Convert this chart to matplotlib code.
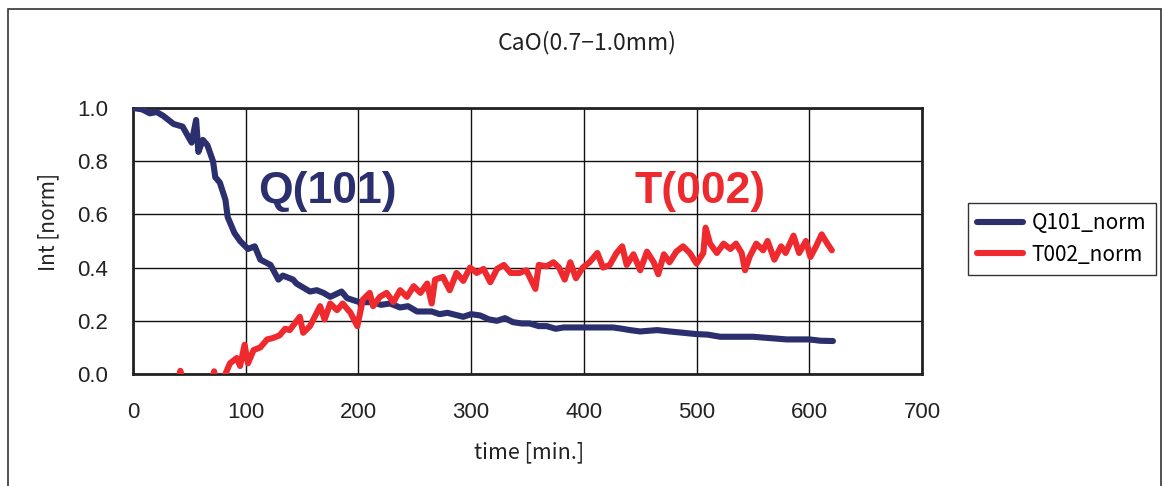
import matplotlib
matplotlib.use("Agg")
import matplotlib.pyplot as plt
from matplotlib.patches import Rectangle

# ---- data ----
t_q = [0, 8, 15, 21, 27, 36, 44, 52, 56, 58, 62, 66, 71, 73, 77, 82, 84, 90, 95, 102,
       108, 113, 122, 129, 133, 142, 145, 157, 163, 169, 175, 185, 190, 201, 213, 220,
       228, 237, 244, 252, 265, 272, 279, 293, 300, 308, 316, 323, 330, 337, 345, 352,
       360, 367, 375, 382, 397, 412, 426, 434, 441, 450, 465, 476, 488, 500, 510, 521,
       535, 550, 565, 580, 600, 610, 621]
q101 = [1.0, 0.995, 0.98, 0.985, 0.97, 0.94, 0.93, 0.87, 0.955, 0.835, 0.88, 0.86, 0.80,
        0.74, 0.72, 0.655, 0.59, 0.53, 0.50, 0.47, 0.48, 0.43, 0.41, 0.355, 0.37, 0.355,
        0.34, 0.31, 0.315, 0.305, 0.29, 0.31, 0.285, 0.27, 0.27, 0.26,
        0.265, 0.25, 0.255, 0.235, 0.235, 0.225, 0.23, 0.215, 0.225, 0.22, 0.205,
        0.20, 0.21, 0.195, 0.19, 0.19,
        0.18, 0.18, 0.17, 0.175, 0.175, 0.175, 0.175, 0.17, 0.165, 0.16, 0.165, 0.16,
        0.155, 0.15, 0.148, 0.14, 0.14, 0.14, 0.135, 0.13, 0.13, 0.125, 0.124]

t_t = [35, 40, 42, 44, 50, 68, 72, 74, 78, 82,
       86, 92, 95, 99, 102, 107, 113, 119, 124, 130,
       135, 139, 148, 151, 157, 166, 170, 175, 181, 186,
       193, 199, 204, 210, 213, 219, 225, 231, 237, 243,
       249, 255, 261, 265, 268, 275, 281, 287, 293, 299,
       305, 311, 317, 323, 329, 335, 343, 349, 357, 360,
       367, 373, 378, 383, 388, 393, 399, 405, 412, 417,
       423, 429, 434, 438, 444, 450, 456, 462, 466, 471,
       476, 482, 488, 494, 500, 506, 508, 512, 518, 524,
       530, 535, 540, 543, 547, 553, 559, 563, 569, 575,
       579, 586, 591, 597, 601, 606, 611, 616, 620]
t002 = [-0.06, -0.03, 0.012, -0.03, -0.06, -0.05, 0.01, -0.04, -0.03, 0.0,
        0.04, 0.06, 0.03, 0.11, 0.04, 0.09, 0.10, 0.13, 0.135, 0.145,
        0.17, 0.165, 0.215, 0.155, 0.18, 0.255, 0.205, 0.265, 0.24, 0.265,
        0.23, 0.18, 0.28, 0.305, 0.255, 0.29, 0.305, 0.27, 0.315, 0.29,
        0.33, 0.305, 0.34, 0.265, 0.355, 0.365, 0.315, 0.38, 0.35, 0.40,
        0.38, 0.395, 0.345, 0.395, 0.41, 0.38, 0.38, 0.39, 0.32, 0.41,
        0.405, 0.42, 0.40, 0.355, 0.42, 0.36, 0.40, 0.42, 0.455, 0.40,
        0.41, 0.455, 0.48, 0.41, 0.45, 0.39, 0.46, 0.42, 0.375, 0.45,
        0.42, 0.46, 0.48, 0.455, 0.415, 0.455, 0.55, 0.49, 0.455, 0.49,
        0.47, 0.49, 0.455, 0.39, 0.44, 0.49, 0.465, 0.50, 0.43, 0.48,
        0.455, 0.52, 0.455, 0.50, 0.44, 0.48, 0.525, 0.49, 0.465]

x_ticks = [0, 100, 200, 300, 400, 500, 600, 700]
y_ticks = [0.0, 0.2, 0.4, 0.6, 0.8, 1.0]
title = "CaO(0.7\u22121.0mm)"
x_label = "time [min.]"
y_label = "Int [norm]"
series_names = ["Q101_norm", "T002_norm"]
annotations = ["Q(101)", "T(002)"]

NAVY = "#2B2F6E"
RED = "#EE2A2F"
GOTHIC = ["Noto Sans CJK JP", "DejaVu Sans"]
SANS = ["Liberation Sans", "DejaVu Sans"]

W, H = 1163, 486
fig = plt.figure(figsize=(W / 100, H / 100), dpi=100)
ax = fig.add_axes([133 / W, 1 - 374 / H, (922 - 133) / W, (374 - 108) / H])

# outer frame
fig.patches.append(Rectangle((8 / W, -0.05), (1161 - 8) / W, 1 - 9 / H + 0.05,
                             transform=fig.transFigure, fill=False,
                             edgecolor="#333333", linewidth=1.2))

ax.plot(t_q, q101, color=NAVY, lw=4.4, solid_joinstyle="round",
        solid_capstyle="round", label=series_names[0], zorder=3)
ax.plot(t_t, t002, color=RED, lw=4.4, solid_joinstyle="round",
        solid_capstyle="round", label=series_names[1], zorder=3)

ax.set_xlim(0, 700)
ax.set_ylim(0, 1.0)
ax.set_xticks(x_ticks)
ax.set_yticks(y_ticks)
ax.set_xticklabels([str(v) for v in x_ticks], fontfamily=SANS, fontsize=16)
ax.set_yticklabels([f"{v:.1f}" for v in y_ticks], fontfamily=SANS, fontsize=16)
ax.tick_params(axis="both", length=0, colors="#222222")
ax.tick_params(axis="x", pad=20)
ax.tick_params(axis="y", pad=18)
ax.grid(True, color="#111111", lw=1.0)
ax.set_axisbelow(True)
for s in ax.spines.values():
    s.set_linewidth(2.0)
    s.set_color("#222222")

ax.text(111, 0.643, annotations[0], color=NAVY, fontsize=32, fontweight="bold",
        fontfamily=SANS, ha="left", va="baseline", zorder=4)
ax.text(444.5, 0.643, annotations[1], color=RED, fontsize=32, fontweight="bold",
        fontfamily=SANS, ha="left", va="baseline", zorder=4)

fig.text(587 / W, 1 - 43 / H, title, fontfamily=GOTHIC, fontsize=16.5,
         ha="center", va="center", color="#222222")
fig.text(529 / W, 1 - 452 / H, x_label, fontfamily=GOTHIC, fontsize=15.5,
         ha="center", va="center", color="#222222")
fig.text(48 / W, 1 - 222 / H, y_label, fontfamily=GOTHIC, fontsize=15,
         ha="center", va="center", rotation=90, color="#222222")

leg = fig.legend(loc="upper left", bbox_to_anchor=(968 / W, 1 - 203 / H),
                 bbox_transform=fig.transFigure,
                 prop={"family": GOTHIC, "size": 15}, frameon=True, fancybox=False,
                 edgecolor="#333333", framealpha=1, handlelength=2.2,
                 handletextpad=0.4, borderpad=0.45, labelspacing=0.45,
                 borderaxespad=0)
leg.get_frame().set_linewidth(1.0)
for h in leg.get_lines():
    h.set_linewidth(4.4)

fig.savefig("out.png", dpi=100, facecolor="white")
